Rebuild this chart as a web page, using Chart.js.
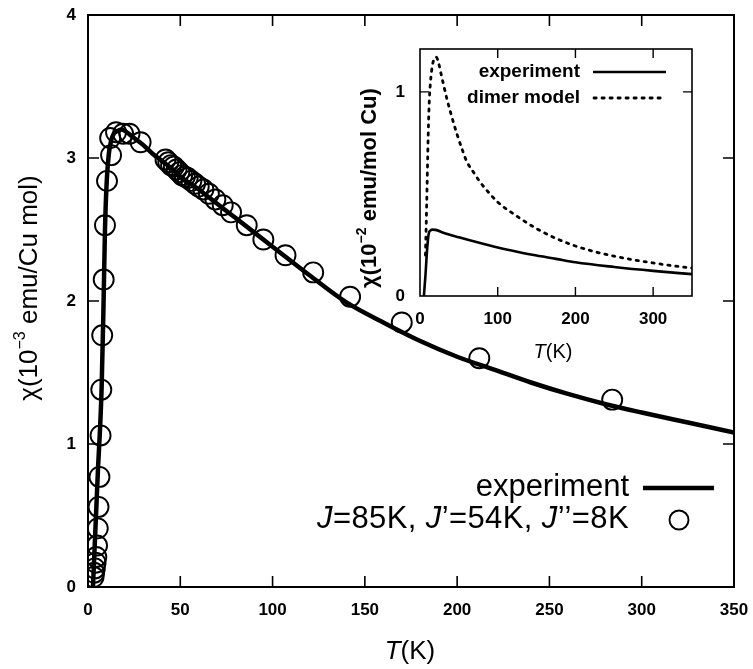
<!DOCTYPE html>
<html>
<head>
<meta charset="utf-8">
<script src="https://cdn.jsdelivr.net/npm/chart.js@4.4.1/dist/chart.umd.min.js"></script>
<style>
  html, body { margin: 0; padding: 0; background: #fff; }
  #wrap { position: relative; width: 753px; height: 669px; }
  #main { position: absolute; left: 0; top: 0; }
  #inset { position: absolute; left: 340px; top: 30px; }
</style>
</head>
<body>
<div id="wrap">
  <canvas id="main" width="753" height="669"></canvas>
  <canvas id="inset" width="380" height="345"></canvas>
</div>
<script>
// ---------- data ----------
// main panel: chi in 10^-3 emu/Cu mol
const expT   = [2.7, 3.5, 4.5, 5.5, 6.5, 7.4, 8.3, 9.2, 10.2, 11.3, 12.5, 14, 16, 18, 20, 23, 26, 30, 35, 40, 45, 50, 60, 70, 80, 90, 100, 120, 140, 160, 180, 200, 220, 240, 260, 280, 300, 325, 350];
const expChi = [0.0, 0.25, 0.55, 0.85, 1.1, 1.4, 1.9, 2.5, 2.85, 3.03, 3.12, 3.17, 3.19, 3.2, 3.19, 3.16, 3.13, 3.09, 3.03, 2.98, 2.93, 2.87, 2.78, 2.68, 2.58, 2.48, 2.38, 2.18, 1.99, 1.85, 1.72, 1.61, 1.52, 1.43, 1.35, 1.28, 1.22, 1.15, 1.08];

const modelT   = [3.0, 3.3, 3.7, 4.1, 4.5, 4.9, 5.3, 5.7, 6.2, 6.8, 7.2, 7.7, 8.5, 9.2, 10.3, 12.5, 12.0, 15.2, 19, 22.5, 28.5,
                  42, 43.5, 45, 46.5, 48, 49.5, 51, 52.5, 54, 56, 58, 60, 62.5, 65.5, 69, 73, 77.5, 86, 95, 107, 122, 142, 170, 212, 284];
const modelChi = [0.07, 0.10, 0.13, 0.17, 0.21, 0.29, 0.41, 0.56, 0.77, 1.06, 1.38, 1.76, 2.15, 2.53, 2.84, 3.02, 3.14, 3.18, 3.17, 3.17, 3.11,
                  2.99, 2.97, 2.95, 2.94, 2.92, 2.90, 2.88, 2.87, 2.86, 2.84, 2.82, 2.80, 2.78, 2.75, 2.71, 2.67, 2.62, 2.53, 2.43, 2.32, 2.20, 2.03, 1.85, 1.60, 1.31];

const mainXTicks = [0, 50, 100, 150, 200, 250, 300, 350];
const mainYTicks = [0, 1, 2, 3, 4];

// inset: chi in 10^-2 emu/mol Cu
const insExpT   = [5, 7, 9, 11, 13, 16, 20, 30, 50, 75, 100, 125, 150, 175, 200, 250, 300, 350];
const insExpChi = [0.0, 0.1, 0.22, 0.30, 0.32, 0.325, 0.324, 0.31, 0.288, 0.262, 0.238, 0.217, 0.198, 0.182, 0.165, 0.142, 0.123, 0.107];

const dimerT   = [7, 8, 9, 10, 11, 12, 14, 16, 18, 21, 24, 27, 30, 35, 40, 47, 55, 60, 70, 77, 90, 100, 125, 150, 175, 200, 225, 250, 275, 300, 325, 350];
const dimerChi = [0.2, 0.35, 0.52, 0.7, 0.85, 0.96, 1.07, 1.13, 1.16, 1.17, 1.14, 1.09, 1.04, 0.96, 0.89, 0.80, 0.71, 0.66, 0.60, 0.56, 0.50, 0.46, 0.39, 0.33, 0.282, 0.245, 0.217, 0.195, 0.177, 0.162, 0.148, 0.137];

const insXTicks = [0, 100, 200, 300];
const insYTicks = [0, 1];

// ---------- helpers ----------
const FONT = '"Liberation Sans", Arial, Helvetica, sans-serif';
const pts = (xs, ys) => xs.map((x, i) => ({ x: x, y: ys[i] }));
const setTicks = arr => (scale) => { scale.ticks = arr.map(v => ({ value: v })); };
const fitX = h => s => { s.height = h; s.paddingLeft = 0; s.paddingRight = 0; s.paddingTop = 0; s.paddingBottom = 0; };
const fitY = w => s => { s.width = w; s.paddingLeft = 0; s.paddingRight = 0; s.paddingTop = 0; s.paddingBottom = 0; };

function drawRich(ctx, segs, cx, cy, rot, spacing) {
  ctx.save();
  ctx.translate(cx, cy);
  if (rot) ctx.rotate(rot);
  ctx.textBaseline = 'middle';
  ctx.textAlign = 'left';
  if (spacing) ctx.letterSpacing = spacing;
  let w = 0;
  segs.forEach(s => { ctx.font = s.font; w += ctx.measureText(s.t).width; });
  let x = -w / 2;
  segs.forEach(s => {
    ctx.font = s.font;
    ctx.fillText(s.t, x, s.dy || 0);
    x += ctx.measureText(s.t).width;
  });
  ctx.restore();
}
function drawRichRight(ctx, segs, rx, cy, spacing) {
  ctx.save();
  ctx.textBaseline = 'middle';
  ctx.textAlign = 'left';
  if (spacing) ctx.letterSpacing = spacing;
  let w = 0;
  segs.forEach(s => { ctx.font = s.font; w += ctx.measureText(s.t).width; });
  let x = rx - w;
  segs.forEach(s => { ctx.font = s.font; ctx.fillText(s.t, x, cy); x += ctx.measureText(s.t).width; });
  ctx.restore();
}

const frame = {
  id: 'frame',
  afterDraw(chart, args, o) {
    const { ctx, chartArea: a } = chart;
    const xs = chart.scales.x, ys = chart.scales.y;
    ctx.save();
    ctx.strokeStyle = '#000';
    ctx.lineWidth = o.lw;
    ctx.strokeRect(a.left, a.top, a.right - a.left, a.bottom - a.top);
    ctx.lineWidth = o.tw;
    ctx.beginPath();
    xs.ticks.forEach(t => {
      const px = xs.getPixelForValue(t.value);
      if (px <= a.left + 1 || px >= a.right - 1) return;
      ctx.moveTo(px, a.bottom); ctx.lineTo(px, a.bottom - o.len);
      ctx.moveTo(px, a.top); ctx.lineTo(px, a.top + o.len);
    });
    ys.ticks.forEach(t => {
      const py = ys.getPixelForValue(t.value);
      if (py <= a.top + 1 || py >= a.bottom - 1) return;
      ctx.moveTo(a.left, py); ctx.lineTo(a.left + o.len, py);
      ctx.moveTo(a.right, py); ctx.lineTo(a.right - o.len, py);
    });
    ctx.stroke();
    ctx.restore();
    if (o.extra) o.extra(chart);
  }
};

// ---------- main chart ----------
new Chart(document.getElementById('main'), {
  type: 'scatter',
  data: {
    datasets: [
      { label: 'experiment', data: pts(expT, expChi), showLine: true, borderColor: '#000', borderWidth: 4.5,
        pointRadius: 0, cubicInterpolationMode: 'monotone', fill: false, order: 2 },
      { label: 'J=85K, J\'=54K, J\'\'=8K', data: pts(modelT, modelChi), showLine: false,
        pointStyle: 'circle', pointRadius: 10, pointBorderWidth: 1.9, pointBorderColor: '#000',
        pointBackgroundColor: 'rgba(0,0,0,0)', order: 1 }
    ]
  },
  options: {
    responsive: false, animation: false, devicePixelRatio: 1,
    layout: { padding: { left: 0, top: 15, right: 19, bottom: 0 } },
    plugins: {
      legend: { display: false }, tooltip: { enabled: false },
      frame: {
        lw: 2, tw: 1.6, len: 11,
        extra(chart) {
          const ctx = chart.ctx;
          ctx.fillStyle = '#000';
          // y title
          drawRich(ctx, [
            { t: 'χ(10', font: `26px ${FONT}` },
            { t: '−3', font: `16px ${FONT}`, dy: -9 },
            { t: ' emu/Cu mol)', font: `26px ${FONT}` }
          ], 30, 288, -Math.PI / 2);
          // x title
          drawRich(ctx, [
            { t: 'T', font: `italic 26px ${FONT}` },
            { t: '(K)', font: `26px ${FONT}` }
          ], 410, 652, 0);
          // legend
          const lf = `31px ${FONT}`, li = `italic 31px ${FONT}`;
          drawRichRight(ctx, [{ t: 'experiment', font: lf }], 629, 487);
          drawRichRight(ctx, [
            { t: 'J', font: li }, { t: '=85K, ', font: lf },
            { t: 'J', font: li }, { t: '\u2019=54K, ', font: lf },
            { t: 'J', font: li }, { t: '\u2019\u2019=8K', font: lf }
          ], 629, 519, '0.4px');
          ctx.save();
          ctx.strokeStyle = '#000';
          ctx.lineWidth = 4.5;
          ctx.beginPath(); ctx.moveTo(643, 488); ctx.lineTo(714, 488); ctx.stroke();
          ctx.lineWidth = 1.9;
          ctx.beginPath(); ctx.arc(679, 520, 9.5, 0, Math.PI * 2); ctx.stroke();
          ctx.restore();
        }
      }
    },
    scales: {
      x: {
        type: 'linear', min: 0, max: 350, afterBuildTicks: setTicks(mainXTicks),
        afterFit: fitX(82),
        grid: { display: false, drawTicks: false }, border: { display: false },
        ticks: { padding: 13, color: '#000', font: { family: FONT, size: 17, weight: 'bold' } }
      },
      y: {
        type: 'linear', min: 0, max: 4, afterBuildTicks: setTicks(mainYTicks),
        afterFit: fitY(88),
        grid: { display: false, drawTicks: false }, border: { display: false },
        ticks: { padding: 12, color: '#000', font: { family: FONT, size: 17, weight: 'bold' } }
      }
    }
  },
  plugins: [frame]
});

// ---------- inset chart ----------
const OX = 340, OY = 30;
new Chart(document.getElementById('inset'), {
  type: 'scatter',
  data: {
    datasets: [
      { label: 'experiment', data: pts(insExpT, insExpChi), showLine: true, borderColor: '#000', borderWidth: 2.6,
        pointRadius: 0, cubicInterpolationMode: 'monotone', fill: false },
      { label: 'dimer model', data: pts(dimerT, dimerChi), showLine: true, borderColor: '#000', borderWidth: 2.8,
        borderDash: [2.2, 5.8], borderCapStyle: 'round', pointRadius: 0, cubicInterpolationMode: 'monotone', fill: false }
    ]
  },
  options: {
    responsive: false, animation: false, devicePixelRatio: 1,
    layout: { padding: { left: 0, top: 19, right: 28, bottom: 0 } },
    plugins: {
      legend: { display: false }, tooltip: { enabled: false },
      frame: {
        lw: 1.6, tw: 1.4, len: 9,
        extra(chart) {
          const ctx = chart.ctx;
          ctx.fillStyle = '#000';
          drawRich(ctx, [
            { t: 'χ(10', font: `bold 22px ${FONT}` },
            { t: '−2', font: `bold 14px ${FONT}`, dy: -8 },
            { t: ' emu/mol Cu)', font: `bold 22px ${FONT}` }
          ], 370 - OX, 188 - OY, -Math.PI / 2);
          drawRich(ctx, [
            { t: 'T', font: `italic 20px ${FONT}` },
            { t: '(K)', font: `20px ${FONT}` }
          ], 553 - OX, 352 - OY, 0);
          const lf = `bold 19px ${FONT}`;
          drawRichRight(ctx, [{ t: 'experiment', font: lf }], 580 - OX, 72 - OY);
          drawRichRight(ctx, [{ t: 'dimer model', font: lf }], 580 - OX, 98 - OY);
          ctx.save();
          ctx.strokeStyle = '#000';
          ctx.lineWidth = 2.6;
          ctx.beginPath(); ctx.moveTo(593 - OX, 72 - OY); ctx.lineTo(666 - OX, 72 - OY); ctx.stroke();
          ctx.lineWidth = 2.8; ctx.lineCap = 'round'; ctx.setLineDash([2.2, 5.8]);
          ctx.beginPath(); ctx.moveTo(594 - OX, 98 - OY); ctx.lineTo(666 - OX, 98 - OY); ctx.stroke();
          ctx.restore();
        }
      }
    },
    scales: {
      x: {
        type: 'linear', min: 0, max: 350, afterBuildTicks: setTicks(insXTicks),
        afterFit: fitX(79),
        grid: { display: false, drawTicks: false }, border: { display: false },
        ticks: { padding: 13, color: '#000', font: { family: FONT, size: 17, weight: 'bold' } }
      },
      y: {
        type: 'linear', min: 0, max: 1.21, afterBuildTicks: setTicks(insYTicks),
        afterFit: fitY(80),
        grid: { display: false, drawTicks: false }, border: { display: false },
        ticks: { padding: 15, color: '#000', font: { family: FONT, size: 17, weight: 'bold' } }
      }
    }
  },
  plugins: [frame]
});
</script>
</body>
</html>
